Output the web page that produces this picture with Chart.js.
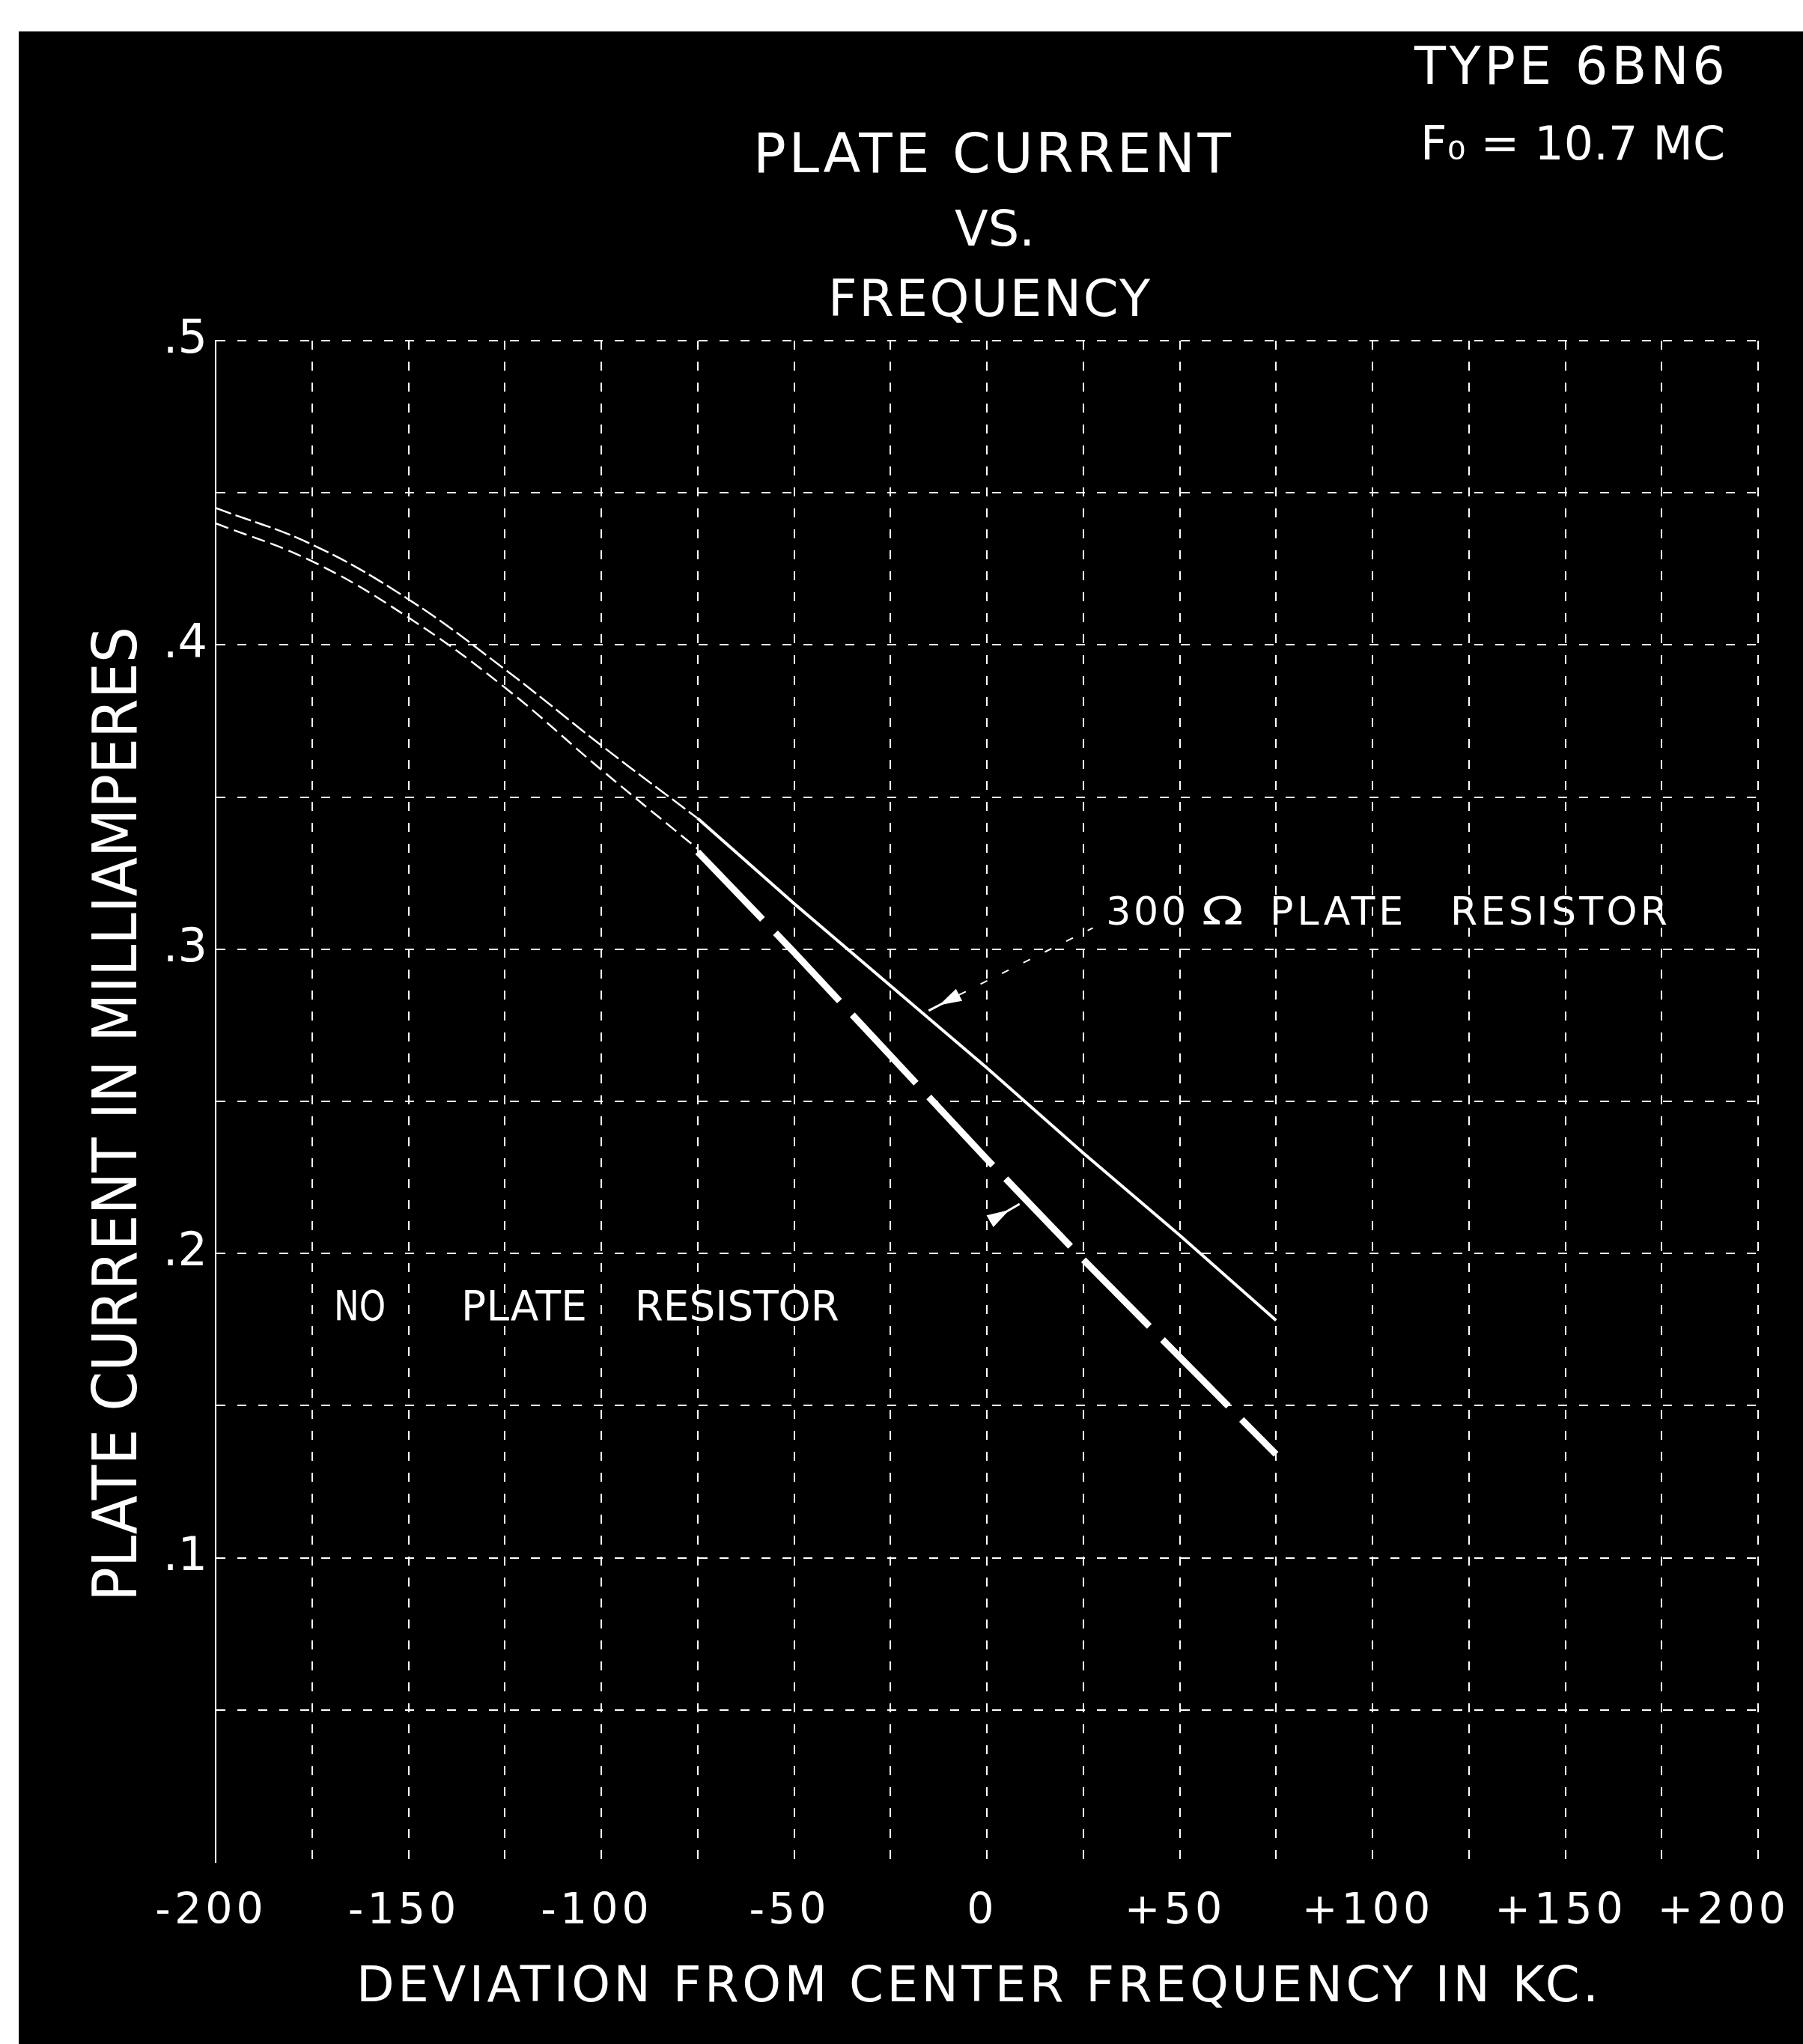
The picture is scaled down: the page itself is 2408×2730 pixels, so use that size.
<!DOCTYPE html>
<html><head><meta charset="utf-8">
<script src="https://cdn.jsdelivr.net/npm/chart.js@4.4.1/dist/chart.umd.min.js"></script>
<style>html,body{margin:0;padding:0;background:#fff;}#wrap{width:2408px;height:2730px;position:relative;}</style>
</head><body><div id="wrap"><canvas id="c" width="2408" height="2730"></canvas></div>
<script>
// ---- data ----
const kcThin = [-200, -175, -150, -125, -100, -75];
const resistorThin = [0.445, 0.433, 0.415, 0.392, 0.367, 0.343];
const noResistorThin = [0.440, 0.4275, 0.409, 0.386, 0.359, 0.333];
const kcThick = [-75, -50, -25, 0, 25, 50, 75];
const resistorThick = [0.343, 0.315, 0.288, 0.261, 0.233, 0.206, 0.178];
const noResistorThick = [0.332, 0.299, 0.265, 0.231, 0.198, 0.166, 0.134];
const xTickValues = [-200, -150, -100, -50, 0, 50, 100, 150, 200];
const xTickLabels = ['-200', '-150', '-100', '-50', '0', '+50', '+100', '+150', '+200'];
const yTickValues = [0.1, 0.2, 0.3, 0.4, 0.5];
const yTickLabels = ['.1', '.2', '.3', '.4', '.5'];
const titleLines = ['PLATE CURRENT', 'VS.', 'FREQUENCY'];
const typeLines = ['TYPE 6BN6', 'F\u2080 = 10.7 MC'];
const xTitle = 'DEVIATION FROM CENTER FREQUENCY IN KC.';
const yTitle = 'PLATE CURRENT IN MILLIAMPERES';
const resistorLabelWords = ['300', '\u03A9', 'PLATE', 'RESISTOR'];
const resistorLabelFrom = [30.9, 55.7, 73.4, 120.2];
const resistorLabelTo = [51.7, 66.6, 108.0, 176.5];
const resistorLabelValue = 0.3127;
const noResistorLabelWords = ['NO', 'PLATE', 'RESISTOR'];
const noResistorLabelFrom = [-169.3, -136.3, -91.3];
const noResistorLabelTo = [-155.9, -103.7, -38.3];
const noResistorLabelValue = 0.1831;
// arrows: tip on curve, outer end (kc, mA)
const resistorArrow = [-15.1, 0.2798, -7.2, 0.285];
const resistorLeaderEnd = [27.5, 0.307];
const noResistorArrow = [8.5, 0.2163, 0.8, 0.2106];

const FONT = "'DejaVu Sans', sans-serif";
const CAP = 0.729;

function pts(xs, ys) { return xs.map((x, i) => ({ x: x, y: ys[i] })); }

function fitText(ctx, text, x0, x1, cy, cap) {
  const fs = cap / CAP;
  ctx.font = fs + 'px ' + FONT;
  ctx.letterSpacing = '0px';
  const target = x1 - x0;
  const w = ctx.measureText(text).width;
  const n = Array.from(text).length;
  let ls = n > 1 ? (target - w) / (n - 1) : 0;
  ctx.textAlign = 'left';
  ctx.textBaseline = 'alphabetic';
  if (ls < 0 || n === 1) {
    ctx.save();
    ctx.translate(x0, 0);
    ctx.scale(target / w, 1);
    ctx.fillText(text, 0, cy + cap / 2);
    ctx.restore();
  } else {
    ctx.letterSpacing = ls + 'px';
    ctx.fillText(text, x0, cy + cap / 2);
    ctx.letterSpacing = '0px';
  }
}

const decor = {
  id: 'decor',
  beforeDraw(chart) {
    const ctx = chart.ctx;
    ctx.save();
    ctx.fillStyle = '#000';
    ctx.fillRect(25, 42, chart.width - 25, chart.height - 42);
    ctx.restore();
    const sx = chart.scales.x;
    if (!sx._spacedLabels) {
      const orig = sx.drawLabels;
      sx.drawLabels = function (area) {
        const c = this.ctx, prev = c.letterSpacing;
        c.letterSpacing = '5px';
        orig.call(this, area);
        c.letterSpacing = prev;
      };
      sx._spacedLabels = true;
    }
    // keep the last x label ("+200") inside the page, right-aligned like the original
    try {
      const items = sx._labelItems || (sx._labelItems = sx._computeLabelItems(chart.chartArea));
      const last = items && items[items.length - 1];
      if (last && last.label === xTickLabels[xTickLabels.length - 1]) {
        last.options.textAlign = 'right';
        last.options.translation = [chart.width - 18, last.options.translation[1]];
      }
    } catch (e) {}
  },
  afterDraw(chart) {
    const ctx = chart.ctx;
    const xs = chart.scales.x, ys = chart.scales.y;
    const X = v => xs.getPixelForValue(v), Y = v => ys.getPixelForValue(v);
    ctx.save();
    ctx.letterSpacing = '0px';
    ctx.fillStyle = '#fff';
    ctx.strokeStyle = '#fff';
    fitText(ctx, titleLines[0], 1006, 1644, 203, 53);
    fitText(ctx, titleLines[1], 1275, 1382, 304, 48);
    fitText(ctx, titleLines[2], 1106, 1536, 397, 49);
    fitText(ctx, typeLines[0], 1889, 2304, 87, 50);
    fitText(ctx, typeLines[1], 1897, 2304, 190, 45);
    fitText(ctx, xTitle, 476, 2135, 2649, 48);
    ctx.save();
    ctx.translate(152, 1488);
    ctx.rotate(-Math.PI / 2);
    fitText(ctx, yTitle, -651, 651, 0, 60);
    ctx.restore();
    resistorLabelWords.forEach((w, i) => fitText(ctx, w, X(resistorLabelFrom[i]), X(resistorLabelTo[i]), Y(resistorLabelValue), 38));
    noResistorLabelWords.forEach((w, i) => fitText(ctx, w, X(noResistorLabelFrom[i]), X(noResistorLabelTo[i]), Y(noResistorLabelValue), 40));
    function arrow(a) {
      const tx = X(a[0]), ty = Y(a[1]), ox = X(a[2]), oy = Y(a[3]);
      ctx.lineWidth = 3;
      ctx.setLineDash([]);
      ctx.beginPath(); ctx.moveTo(tx, ty); ctx.lineTo(ox, oy); ctx.stroke();
      const dx = ox - tx, dy = oy - ty, L = Math.hypot(dx, dy);
      const ux = dx / L, uy = dy / L, px = -uy, py = ux;
      const ax = ox - ux * 30, ay = oy - uy * 30;
      ctx.beginPath();
      ctx.moveTo(ax, ay);
      ctx.lineTo(ox + px * 9, oy + py * 9);
      ctx.lineTo(ox - px * 9, oy - py * 9);
      ctx.closePath();
      ctx.fill();
    }
    arrow(resistorArrow);
    arrow(noResistorArrow);
    ctx.lineWidth = 2;
    ctx.setLineDash([10, 22]);
    ctx.beginPath();
    ctx.moveTo(X(resistorArrow[2]), Y(resistorArrow[3]));
    ctx.lineTo(X(resistorLeaderEnd[0]), Y(resistorLeaderEnd[1]));
    ctx.stroke();
    ctx.restore();
  }
};

const near = (a, b) => Math.abs(a - b) < 1e-6;

new Chart(document.getElementById('c'), {
  type: 'line',
  data: {
    datasets: [
      { label: '300 ohm (thin)', data: pts(kcThin, resistorThin), borderColor: '#fff', borderWidth: 2.5, borderDash: [22, 6], tension: 0.4, pointRadius: 0, fill: false },
      { label: 'No resistor (thin)', data: pts(kcThin, noResistorThin), borderColor: '#fff', borderWidth: 2.5, borderDash: [18, 8], tension: 0.4, pointRadius: 0, fill: false },
      { label: '300 ohm plate resistor', data: pts(kcThick, resistorThick), borderColor: '#fff', borderWidth: 4, tension: 0, pointRadius: 0, fill: false },
      { label: 'No plate resistor', data: pts(kcThick, noResistorThick), borderColor: '#fff', borderWidth: 9, borderDash: [125, 25], borderCapStyle: 'butt', tension: 0, pointRadius: 0, fill: false }
    ]
  },
  options: {
    responsive: false,
    animation: false,
    devicePixelRatio: 1,
    layout: { padding: { top: 455, right: 60, left: 0, bottom: 0 }, autoPadding: false },
    plugins: { legend: { display: false }, tooltip: { enabled: false }, title: { display: false } },
    scales: {
      x: {
        type: 'linear', min: -200, max: 200,
        afterFit: s => { s.height = 2730 - 2487; s.paddingLeft = 0; s.paddingRight = 0; },
        ticks: {
          stepSize: 25, maxRotation: 0, autoSkip: false, padding: 33, labelOffset: -6, color: '#fff',
          font: { family: FONT, size: 57 },
          callback: v => { const i = xTickValues.findIndex(t => near(t, v)); return i >= 0 ? xTickLabels[i] : ''; }
        },
        grid: { color: '#fff', lineWidth: 2, drawTicks: false },
        border: { display: false, dash: [12, 16] }
      },
      y: {
        type: 'linear', min: 0, max: 0.5,
        afterFit: s => { s.width = 288; s.paddingTop = 0; s.paddingBottom = 0; },
        ticks: {
          stepSize: 0.05, autoSkip: false, padding: 11, color: '#fff',
          font: { family: FONT, size: 62 },
          callback: v => { const i = yTickValues.findIndex(t => near(t, v)); return i >= 0 ? yTickLabels[i] : ''; }
        },
        grid: { color: c => (c.tick && near(c.tick.value, 0)) ? 'rgba(0,0,0,0)' : '#fff', lineWidth: 2, drawTicks: false },
        border: { display: true, color: '#fff', width: 2, dash: [12, 16] }
      }
    }
  },
  plugins: [decor]
});
</script></body></html>
